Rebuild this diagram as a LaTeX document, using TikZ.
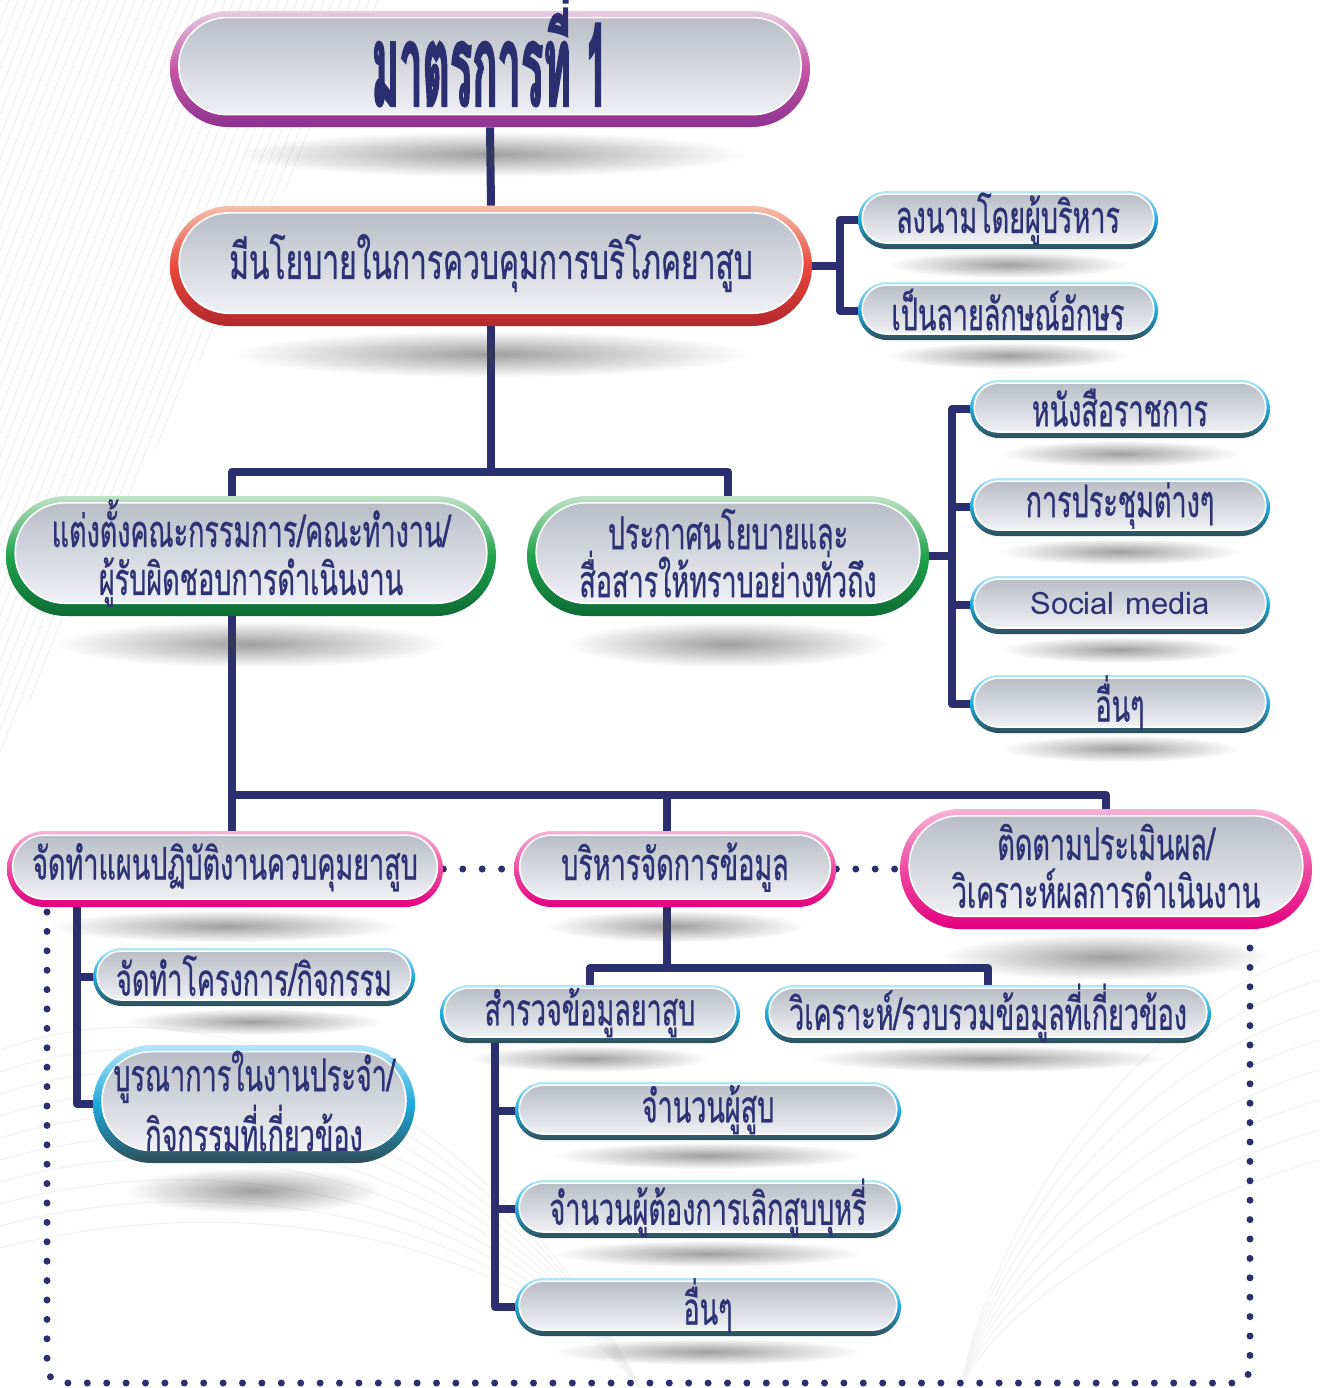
\documentclass[tikz,border=0pt]{standalone}
\usepackage{fontspec}
\usetikzlibrary{fadings,calc}
\newfontfamily\thai[Script=Thai,FakeStretch=0.6,FakeBold=0.6]{Loma}
\newfontfamily\latinfont{Loma}
\newfontfamily\titlefont[Script=Thai,FakeStretch=0.36,FakeBold=1.2]{Loma}
\definecolor{navy}{HTML}{2B2F70}
\definecolor{txtc}{HTML}{2E3275}
\definecolor{innertop}{HTML}{B9BDC6}
\definecolor{innerbot}{HTML}{F0F1F5}
\tikzfading[name=shadowfade, inner color=transparent!50, outer color=transparent!100]
\pgfdeclarelayer{back}
\pgfdeclarelayer{bg}
\pgfsetlayers{back,bg,main}
\definecolor{HTMLE9CBE3}{HTML}{E9CBE3}\definecolor{HTML8E3391}{HTML}{8E3391}\definecolor{HTMLC455A6}{HTML}{C455A6}
\definecolor{HTMLF5BFA8}{HTML}{F5BFA8}\definecolor{HTMLB3282C}{HTML}{B3282C}\definecolor{HTMLE9473B}{HTML}{E9473B}
\definecolor{HTMLBFE3C5}{HTML}{BFE3C5}\definecolor{HTML0D6B35}{HTML}{0D6B35}\definecolor{HTML1FA24C}{HTML}{1FA24C}
\definecolor{HTMLB5E6F7}{HTML}{B5E6F7}\definecolor{HTML2F4D57}{HTML}{2F4D57}\definecolor{HTML1DAADC}{HTML}{1DAADC}
\definecolor{HTMLF7B3D5}{HTML}{F7B3D5}\definecolor{HTMLE3007F}{HTML}{E3007F}\definecolor{HTMLEE4A9F}{HTML}{EE4A9F}
\tikzset{
  purplepill/.style={top color=HTMLE9CBE3, bottom color=HTML8E3391, middle color=HTMLC455A6},
  redpill/.style={top color=HTMLF5BFA8, bottom color=HTMLB3282C, middle color=HTMLE9473B},
  greenpill/.style={top color=HTMLBFE3C5, bottom color=HTML0D6B35, middle color=HTML1FA24C},
  bluepill/.style={top color=HTMLB5E6F7, bottom color=HTML2F4D57, middle color=HTML1DAADC},
  pinkpill/.style={top color=HTMLF7B3D5, bottom color=HTMLE3007F, middle color=HTMLEE4A9F},
  boxtext/.style={text=txtc, font=\thai\fontsize{22.5}{24}\selectfont, align=center, inner sep=0pt},
  conn/.style={draw=navy, line width=4pt, line join=round},
  dotline/.style={draw=navy, line width=3.5pt, line cap=round, dash pattern=on 0pt off 9.7pt},
}
% #1 name, #2 cx, #3 cy, #4 w, #5 h, #6 style, #7 text
\newcommand\pillbox[7]{%
  \pgfmathsetmacro\pT{0.06*#5}%
  \pgfmathsetmacro\pB{0.11*#5}%
  \pgfmathsetmacro\pS{0.08*#5}%
  \pgfmathsetmacro\pR{(#5-\pT-\pB)*0.25}%
  \pgfmathsetmacro\shY{#3+#5*0.7+4}%
  \pgfmathsetmacro\shRy{0.08*#5+2}%
  \pgfmathsetmacro\shRx{0.2*#4}%
  \fill[black!75, path fading=shadowfade] (#2,\shY) ellipse [x radius=\shRx pt, y radius=\shRy pt];
  \node[#6, minimum width=#4*0.5pt, minimum height=#5*0.5pt, rounded corners=#5*0.25pt, inner sep=0pt] (#1) at (#2,#3) {};
  \path[draw=white, line width=0.8pt, top color=innertop, bottom color=innerbot, rounded corners=\pR pt]
    ($(#1.north west)+(\pS,\pT)$) rectangle ($(#1.south east)+(-\pS,-\pB)$);
  \node[boxtext] (#1t) at ($(#1.center)+(0,0.5*\pT-0.5*\pB)$) {#7};
}
\begin{document}
\begin{tikzpicture}[x=0.5pt,y=-0.5pt]
\useasboundingbox (0,0) rectangle (1319,1388);
\begin{pgfonlayer}{back}
\fill[white] (0,0) rectangle (1319,1388);
\begin{scope}
\clip (0,0) -- (380,0) -- (0,760) -- cycle;
\foreach \i in {0,9,...,760} \draw[gray!13, line width=0.4pt] (\i,0) -- (\i-300,760);
\end{scope}
\foreach \k in {0,...,9} \draw[gray!10, line width=0.5pt] (0,1050+\k*22) .. controls (250,960+\k*25) and (520,1150+\k*10) .. (640,1388);
\foreach \k in {0,...,7} \draw[gray!10, line width=0.5pt] (1319,950+\k*30) .. controls (1150,1000+\k*30) and (1000,1200+\k*15) .. (960,1388);
\end{pgfonlayer}

\pillbox{title}{490}{69}{640}{116}{purplepill}{}
\pillbox{policy}{491}{266}{642}{120}{redpill}{\thai\fontsize{25}{25}\selectfont มีนโยบายในการควบคุมการบริโภคยาสูบ}
\pillbox{sign}{1008}{220}{300}{58}{bluepill}{ลงนามโดยผู้บริหาร}
\pillbox{written}{1008}{311}{300}{58}{bluepill}{เป็นลายลักษณ์อักษร}
\pillbox{green1}{251}{556}{490}{120}{greenpill}{แต่งตั้งคณะกรรมการ/คณะทำงาน/\\ผู้รับผิดชอบการดำเนินงาน}
\pillbox{green2}{728}{556}{402}{120}{greenpill}{ประกาศนโยบายและ\\สื่อสารให้ทราบอย่างทั่วถึง}
\pillbox{r1}{1120}{409}{300}{58}{bluepill}{หนังสือราชการ}
\pillbox{r2}{1120}{507}{300}{58}{bluepill}{การประชุมต่างๆ}
\pillbox{r3}{1120}{605}{300}{58}{bluepill}{\latinfont\fontsize{15.5}{20}\selectfont Social media}
\pillbox{r4}{1120}{704}{300}{58}{bluepill}{อื่นๆ}
\pillbox{p1}{225}{869}{436}{76}{pinkpill}{จัดทำแผนปฏิบัติงานควบคุมยาสูบ}
\pillbox{p2}{675}{869}{322}{76}{pinkpill}{บริหารจัดการข้อมูล}
\pillbox{p3}{1106}{869}{412}{120}{pinkpill}{ติดตามประเมินผล/\\วิเคราะห์ผลการดำเนินงาน}
\pillbox{c1}{254}{977}{322}{58}{bluepill}{จัดทำโครงการ/กิจกรรม}
\pillbox{c2}{254}{1104}{322}{118}{bluepill}{บูรณาการในงานประจำ/\\กิจกรรมที่เกี่ยวข้อง}
\pillbox{s1}{590}{1014}{300}{58}{bluepill}{สำรวจข้อมูลยาสูบ}
\pillbox{s2}{988}{1014}{446}{58}{bluepill}{วิเคราะห์/รวบรวมข้อมูลที่เกี่ยวข้อง}
\pillbox{n1}{708}{1111}{386}{58}{bluepill}{จำนวนผู้สูบ}
\pillbox{n2}{708}{1209}{386}{58}{bluepill}{จำนวนผู้ต้องการเลิกสูบบุหรี่}
\pillbox{n3}{708}{1307}{386}{58}{bluepill}{อื่นๆ}

\node[text=navy, inner sep=0pt, font=\titlefont\bfseries\fontsize{58}{58}\selectfont] (titletext) at ($(title.center)+(0,-22)$) {มาตรการที่ 1};

\begin{pgfonlayer}{bg}
\coordinate (kA) at (840,266);
\coordinate (kB) at (491,472);
\coordinate (xg1) at (232,0);
\coordinate (kC) at (952,556);
\coordinate (kD) at (232,795);
\coordinate (kE) at (667,795);
\coordinate (kF) at (77,0);
\coordinate (kG) at (667,968);
\coordinate (kH) at (495,0);
\coordinate (fA) at (47,912);
\coordinate (fB) at (47,1383);
\coordinate (fC) at (1250,1383);
\coordinate (fD) at (1250,935);
\draw[conn] (title.south) -- (policy.north);
\draw[conn] (policy.east) -- (kA);
\draw[conn] (sign.west) -| (kA) |- (written.west);
\draw[conn] (policy.south) -- (kB);
\draw[conn] (green1.north -| xg1) |- (kB) -| (green2.north);
\draw[conn] (green2.east) -- (kC);
\draw[conn] (r1.west) -| (kC) |- (r4.west);
\draw[conn] (r2.west) -- (r2.west -| kC);
\draw[conn] (r3.west) -- (r3.west -| kC);
\draw[conn] (green1.south -| xg1) -- (p1.north -| xg1);
\draw[conn] (kD) -| (p3.north);
\draw[conn] (kE) -- (p2.north -| kE);
\draw[dotline] (p1.east) -- (p2.west);
\draw[dotline] (p2.east) -- (p3.west);
\draw[dotline, rounded corners=8pt] (fA) -- (fB) -- (fC) -- (fD);
\draw[conn] (p1.south -| kF) |- (c2.west);
\draw[conn] (c1.west) -- (c1.west -| kF);
\draw[conn] (p2.south -| kG) -- (kG);
\draw[conn] (s1.north) |- (kG) -| (s2.north);
\draw[conn] (s1.south -| kH) |- (n3.west);
\draw[conn] (n1.west) -- (n1.west -| kH);
\draw[conn] (n2.west) -- (n2.west -| kH);
\end{pgfonlayer}
\end{tikzpicture}
\end{document}
